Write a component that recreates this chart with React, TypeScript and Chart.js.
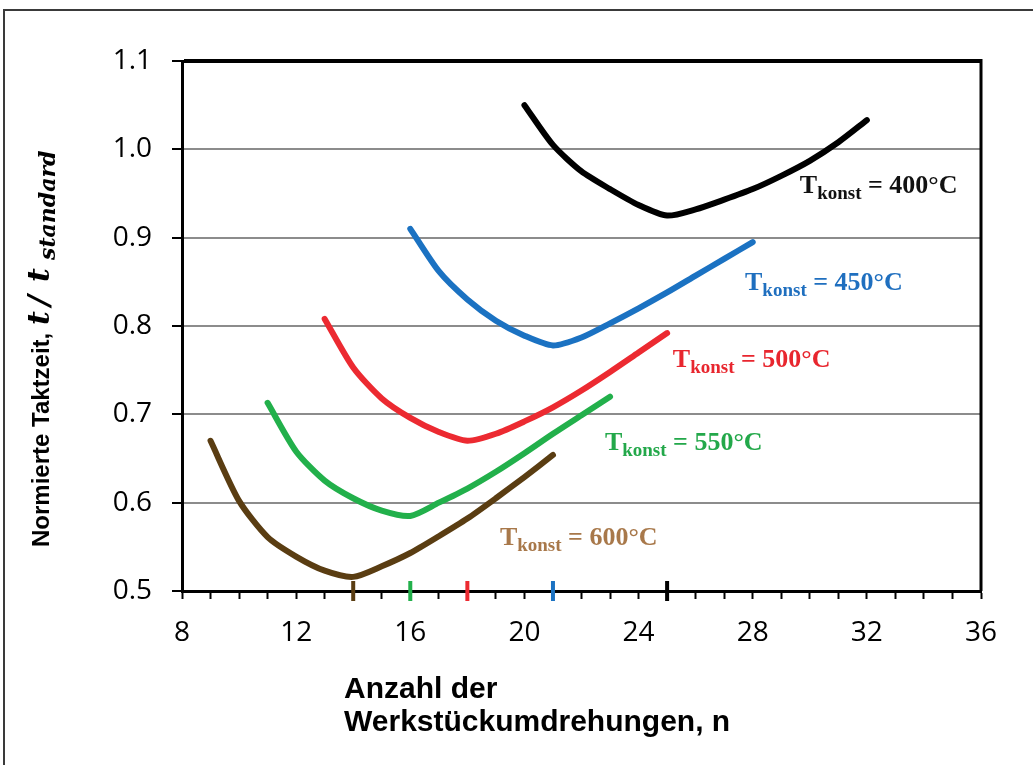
import React, { useEffect, useRef } from "react";
import { Chart, registerables } from "chart.js";

Chart.register(...registerables);

// ---- data ----
const n400 = [20, 21, 22, 23, 24, 25, 26, 27, 28, 29, 30, 31, 32];
const v400 = [1.05, 1.005, 0.975, 0.955, 0.937, 0.925, 0.932, 0.943, 0.955, 0.97, 0.987, 1.008, 1.033];
const n450 = [16, 17, 18, 19, 20, 21, 22, 23, 24, 25, 26, 27, 28];
const v450 = [0.91, 0.862, 0.83, 0.806, 0.789, 0.778, 0.787, 0.803, 0.82, 0.838, 0.857, 0.876, 0.895];
const n500 = [13, 14, 15, 16, 17, 18, 19, 20, 21, 22, 23, 24, 25];
const v500 = [0.808, 0.753, 0.718, 0.696, 0.68, 0.67, 0.678, 0.692, 0.708, 0.727, 0.748, 0.77, 0.792];
const n550 = [11, 12, 13, 14, 15, 16, 17, 18, 19, 20, 21, 22, 23];
const v550 = [0.713, 0.658, 0.625, 0.605, 0.591, 0.585, 0.6, 0.616, 0.635, 0.656, 0.678, 0.699, 0.72];
const n600 = [9, 10, 11, 12, 13, 14, 15, 16, 17, 18, 19, 20, 21];
const v600 = [0.67, 0.602, 0.561, 0.539, 0.523, 0.516, 0.528, 0.543, 0.562, 0.582, 0.605, 0.629, 0.654];

const temps = ["400", "450", "500", "550", "600"];
const optimumN = [25, 21, 18, 16, 14];
const labelN = [29.65, 27.73, 25.2, 22.82, 19.14];
const labelV = [0.9505, 0.8407, 0.7535, 0.6595, 0.5519];

const xMin = 8;
const xMax = 36;
const yMin = 0.5;
const yMax = 1.1;

const lineColors = ["#000000", "#1b72c2", "#ec2a31", "#22b04b", "#5a3d12"];
const labelColors = ["#111111", "#1f6fbf", "#e8262e", "#23a84a", "#a8784a"];

const yTitleText = "Normierte Taktzeit,";
const xTitleLines = ["Anzahl der", "Werkstückumdrehungen, n"];

function pts(xs: number[], ys: number[]) {
  return xs.map((x, i) => ({ x, y: ys[i] }));
}

const series = [
  pts(n400, v400),
  pts(n450, v450),
  pts(n500, v500),
  pts(n550, v550),
  pts(n600, v600),
];

const decorPlugin = {
  id: "decor",
  beforeDraw(chart: any) {
    const ctx = chart.ctx;
    ctx.save();
    ctx.fillStyle = "#ffffff";
    ctx.fillRect(0, 0, chart.width, chart.height);
    ctx.strokeStyle = "#3a3a3a";
    ctx.lineWidth = 2;
    ctx.beginPath();
    ctx.moveTo(4, chart.height);
    ctx.lineTo(4, 10);
    ctx.lineTo(chart.width, 10);
    ctx.stroke();
    ctx.restore();
  },
  afterDraw(chart: any) {
    const ctx = chart.ctx;
    const a = chart.chartArea;
    const xs = chart.scales.x;
    const ys = chart.scales.y;
    ctx.save();
    // right border
    ctx.strokeStyle = "#000";
    ctx.lineWidth = 3;
    ctx.beginPath();
    ctx.moveTo(a.right, a.top - 2);
    ctx.lineTo(a.right, a.bottom);
    ctx.stroke();

    // series labels
    temps.forEach((t, i) => {
      const px = xs.getPixelForValue(labelN[i]);
      const py = ys.getPixelForValue(labelV[i]);
      ctx.fillStyle = labelColors[i];
      ctx.textBaseline = "alphabetic";
      ctx.textAlign = "left";
      ctx.font = 'bold 26px "Liberation Serif"';
      ctx.fillText("T", px, py);
      let w = ctx.measureText("T").width;
      ctx.font = 'bold 19px "Liberation Serif"';
      ctx.fillText("konst", px + w, py + 6);
      w += ctx.measureText("konst").width;
      ctx.font = 'bold 26px "Liberation Serif"';
      ctx.fillText(" = " + t + "°C", px + w, py);
    });

    // y title
    ctx.save();
    ctx.translate(49, 547);
    ctx.rotate(-Math.PI / 2);
    ctx.fillStyle = "#000";
    ctx.textAlign = "left";
    ctx.textBaseline = "alphabetic";
    ctx.font = 'bold 24px "Liberation Sans"';
    ctx.fillText(yTitleText, 0, 0);
    ctx.font = 'bold italic 30px "DejaVu Serif"';
    ctx.fillText("t", 222, 0);
    ctx.fillText("/", 241, 0);
    ctx.fillText("t", 265, 0);
    ctx.font = 'bold italic 22px "DejaVu Serif"';
    ctx.fillText("standard", 287, 6);
    ctx.restore();

    // x title
    ctx.fillStyle = "#000";
    ctx.font = 'bold 30px "Liberation Sans"';
    ctx.textAlign = "left";
    ctx.fillText(xTitleLines[0], 344, 698);
    ctx.fillText(xTitleLines[1], 344, 731);
    ctx.restore();
  },
};

export default function App() {
  const ref = useRef<HTMLCanvasElement>(null);
  useEffect(() => {
    if (!ref.current) return;
    const datasets: any[] = series.map((d, i) => ({
      type: "line",
      data: d,
      borderColor: lineColors[i],
      backgroundColor: lineColors[i],
      borderWidth: 6,
      pointRadius: 0,
      tension: 0.25,
      borderCapStyle: "round",
      borderJoinStyle: "round",
      fill: false,
    }));
    optimumN.forEach((nv, i) => {
      datasets.push({
        type: "scatter",
        data: [{ x: nv, y: yMin }],
        pointStyle: "line",
        rotation: 90,
        pointRadius: 10,
        borderWidth: 4,
        borderColor: lineColors[i],
        backgroundColor: lineColors[i],
        clip: false,
      });
    });
    const chart = new Chart(ref.current, {
      type: "line",
      data: { datasets },
      options: {
        animation: false,
        responsive: false,
        layout: { padding: { left: 0, top: 61, right: 52, bottom: 114 } },
        plugins: { legend: { display: false }, tooltip: { enabled: false } },
        scales: {
          x: {
            type: "linear",
            min: xMin,
            max: xMax,
            afterFit: (s: any) => {
              s.height = 60;
            },
            border: { display: true, color: "#000", width: 3 },
            grid: {
              drawOnChartArea: false,
              drawTicks: true,
              tickLength: 8,
              tickColor: "#000",
              tickWidth: 2,
            },
            ticks: {
              stepSize: 1,
              autoSkip: false,
              maxRotation: 0,
              maxTicksLimit: 100,
              padding: 17,
              color: "#000",
              font: { family: "Open Sans", size: 28 },
              callback: (v: any) => (Number(v) % 4 === 0 ? String(v) : ""),
            },
          },
          y: {
            type: "linear",
            min: yMin,
            max: yMax,
            afterFit: (s: any) => {
              s.width = 182;
            },
            border: { display: true, color: "#000", width: 3 },
            grid: {
              color: (c: any) => (Math.abs(c.tick.value - yMax) < 1e-6 ? "#000" : "#8c8c8c"),
              lineWidth: (c: any) => (Math.abs(c.tick.value - yMax) < 1e-6 ? 4 : 2),
              drawTicks: true,
              tickLength: 10,
              tickColor: "#000",
              tickWidth: 2,
            },
            ticks: {
              stepSize: 0.1,
              padding: 20,
              color: "#000",
              font: { family: "Open Sans", size: 28 },
              callback: (v: any) => Number(v).toFixed(1),
            },
          },
        },
      },
      plugins: [decorPlugin],
    });
    return () => chart.destroy();
  }, []);
  return (
    <div style={{ position: "fixed", left: 0, top: 0, width: 1033, height: 765, background: "#fff" }}>
      <canvas ref={ref} width={1033} height={765} style={{ display: "block" }} />
    </div>
  );
}
